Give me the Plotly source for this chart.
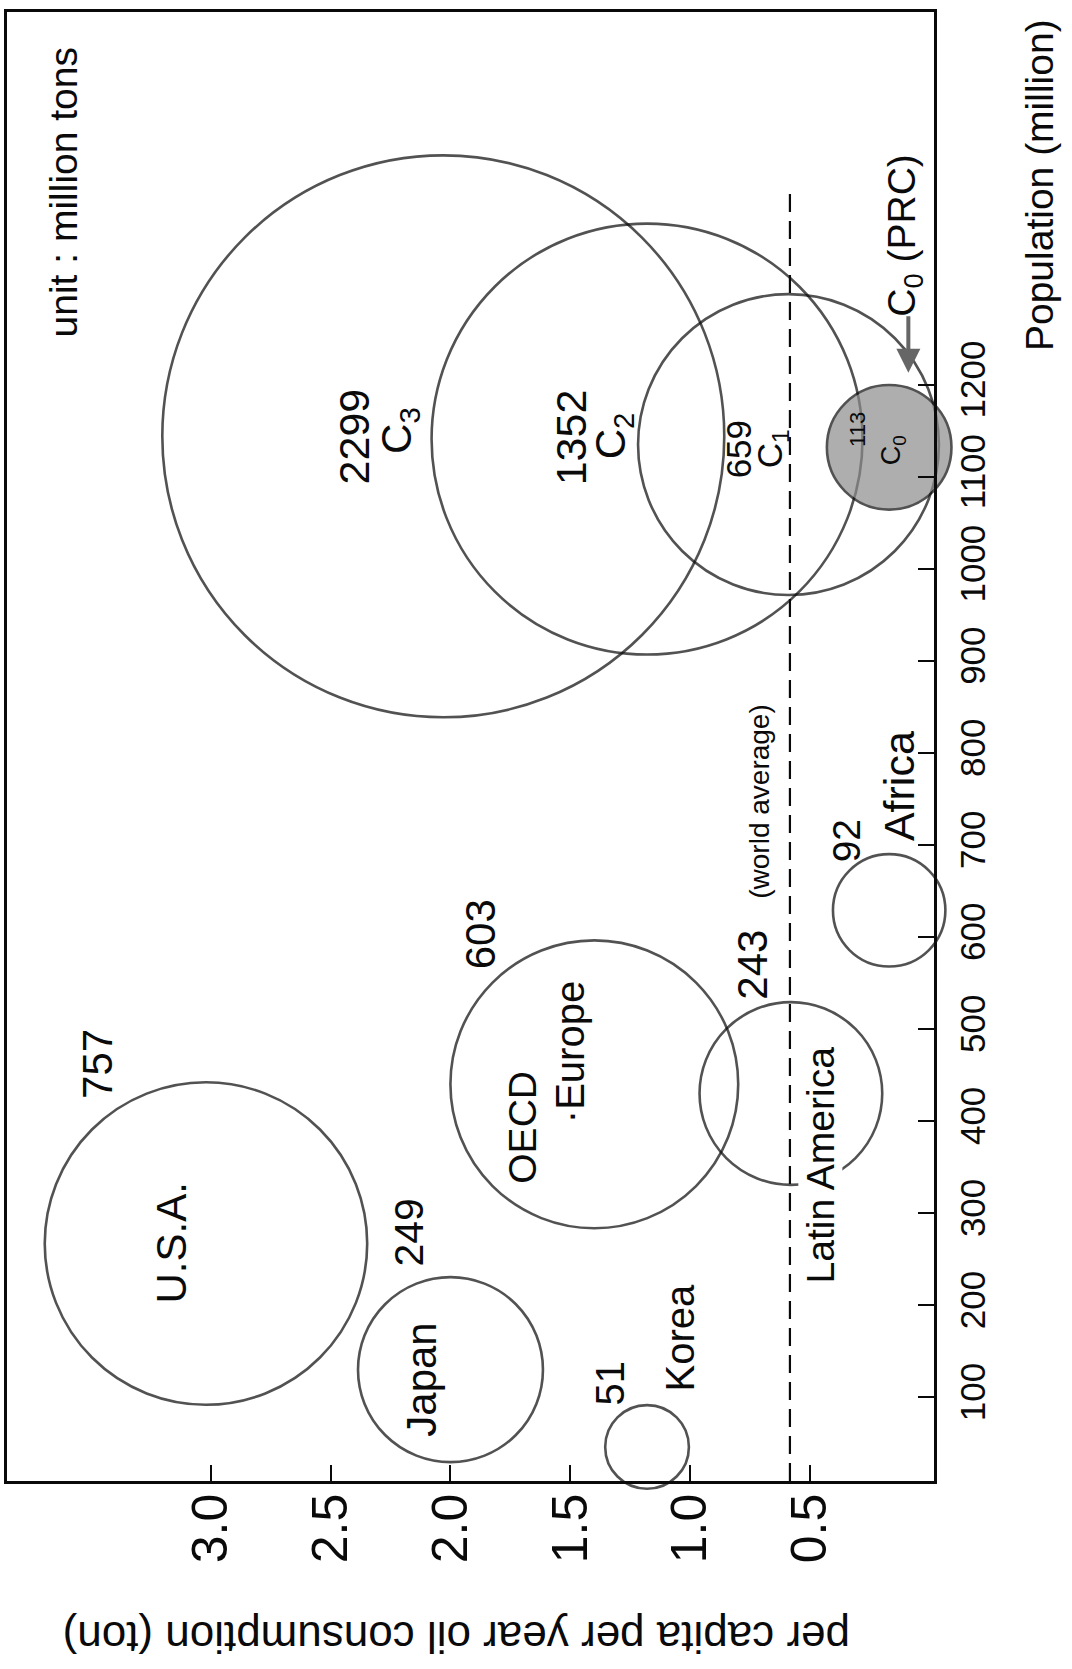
import plotly.graph_objects as go

# ---------------- data ----------------
regions = ["U.S.A.", "Japan", "Korea", "OECD Europe", "Latin America", "Africa"]
region_per_capita = [3.02, 2.00, 1.18, 1.40, 0.58, 0.17]      # ton / capita / year
region_population = [267, 130, 46, 440, 430, 629]             # million
region_consumption = [757, 249, 51, 603, 243, 92]             # million tons

scenarios = ["C3", "C2", "C1", "C0"]
scenario_per_capita = [2.03, 1.18, 0.59, 0.17]
scenario_population = [1144, 1141, 1135, 1132]
scenario_consumption = [2299, 1352, 659, 113]

world_average = 0.584
world_average_pop_span = [9, 1415]

pop_ticks = [100, 200, 300, 400, 500, 600, 700, 800, 900, 1000, 1100, 1200]
pc_ticks = [0.5, 1.0, 1.5, 2.0, 2.5, 3.0]
pc_ticklabels = ["0.5", "1.0", "1.5", "2.0", "2.5", "3.0"]

# ---------------- style ----------------
FONT = "Liberation Sans, Arial, sans-serif"
INK = "#0a0a0a"
SIZEREF = 0.01456
PC_RANGE = [3.85, -0.017]
POP_RANGE = [9, 1605]

fig = go.Figure()

# open bubbles (regions + C3..C1)
fig.add_trace(go.Scatter(
    x=region_per_capita, y=region_population, mode="markers",
    marker=dict(size=region_consumption, sizemode="area", sizeref=SIZEREF,
                color="rgba(0,0,0,0)", line=dict(color=INK, width=2.6)),
    cliponaxis=False, hoverinfo="text", text=regions))

fig.add_trace(go.Scatter(
    x=scenario_per_capita[:3], y=scenario_population[:3], mode="markers",
    marker=dict(size=scenario_consumption[:3], sizemode="area", sizeref=SIZEREF,
                color="rgba(0,0,0,0)", line=dict(color=INK, width=2.6)),
    cliponaxis=False, hoverinfo="text", text=scenarios[:3]))

# world-average dashed line
fig.add_trace(go.Scatter(
    x=[world_average, world_average], y=world_average_pop_span, mode="lines",
    line=dict(color=INK, width=2.2, dash="18px,9px"), cliponaxis=False,
    hoverinfo="skip"))

# filled C0 bubble on top
fig.add_trace(go.Scatter(
    x=scenario_per_capita[3:], y=scenario_population[3:], mode="markers",
    marker=dict(size=scenario_consumption[3:], sizemode="area", sizeref=SIZEREF,
                color="#8c8c8c", line=dict(color=INK, width=2.6)),
    cliponaxis=False, hoverinfo="text", text=scenarios[3:]))


def label(text, pc, pop, size, **kw):
    fig.add_annotation(x=pc, y=pop, xref="x", yref="y", text=text,
                       showarrow=False, textangle=-90,
                       xanchor="center", yanchor="middle",
                       font=dict(family=FONT, size=size, color=INK), **kw)


# region labels
label("757", 3.475, 462, 42)
label("U.S.A.", 3.162, 268, 42)
label("249", 2.173, 279, 41)
label("Japan", 2.119, 119, 42)
label("51", 1.334, 115, 40)
label("Korea", 1.042, 164, 40)
label("603", 1.877, 603, 42)
label("OECD", 1.701, 393, 39)
label("·Europe", 1.501, 475, 40)
label("243", 0.738, 570, 42)
label("Latin America", 0.458, 352, 39, bgcolor="white", borderpad=0)
label("92", 0.350, 704, 39)
label("Africa", 0.129, 764, 43)
label("(world average)", 0.709, 748, 28)

# scenario labels
label("2299", 2.402, 1144, 43)
label("C<sub>3</sub>", 2.210, 1150, 42)
label("1352", 1.497, 1143, 43)
label("C<sub>2</sub>", 1.322, 1144, 42)
label("659", 0.800, 1130, 35)
label("C<sub>1</sub>", 0.659, 1131, 35)
label("113", 0.300, 1151, 22)
label("C<sub>0</sub>", 0.154, 1129, 27)
label("C<sub>0</sub> (PRC)", 0.104, 1363, 39)
label("unit : million tons", 3.616, 1409, 39)

# arrow pointing to C0
fig.add_annotation(x=0.09, y=1213, ax=0.09, ay=1276, xref="x", yref="y",
                   axref="x", ayref="y", text="", showarrow=True,
                   arrowhead=2, arrowsize=1.2, arrowwidth=4, arrowcolor="#666666")

# axis titles as free text
fig.add_annotation(x=1.114, y=0.882, xref="paper", yref="paper",
                   xanchor="center", yanchor="middle",
                   text="Population (million)", showarrow=False, textangle=-90,
                   font=dict(family=FONT, size=39, color=INK))
fig.add_annotation(x=0.4844, y=-0.107, xref="paper", yref="paper",
                   xanchor="center", yanchor="middle",
                   text="per capita per year oil consumption (ton)", showarrow=False,
                   textangle=180, font=dict(family=FONT, size=44, color=INK))

fig.update_xaxes(range=PC_RANGE, tickvals=pc_ticks, ticktext=pc_ticklabels,
                 ticks="inside", ticklen=16, tickwidth=2, tickcolor=INK,
                 showline=True, linewidth=2.5, linecolor=INK, mirror=True,
                 showgrid=False, zeroline=False, tickangle=-90,
                 tickfont=dict(family=FONT, size=50, color=INK),
                 ticklabelstandoff=-10)
fig.update_yaxes(range=POP_RANGE, side="right", tickvals=pop_ticks,
                 ticks="inside", ticklen=16, tickwidth=2, tickcolor=INK,
                 showline=True, linewidth=2.5, linecolor=INK, mirror=True,
                 showgrid=False, zeroline=False, tickangle=-90,
                 tickfont=dict(family=FONT, size=35, color=INK),
                 ticklabelstandoff=6)

fig.update_layout(width=1072, height=1669,
                  margin=dict(l=7, r=138, t=12, b=188, autoexpand=False),
                  paper_bgcolor="white", plot_bgcolor="white",
                  showlegend=False)

fig.write_html("out.html", config={"displayModeBar": False},
               post_script="document.body.style.margin='0';")
